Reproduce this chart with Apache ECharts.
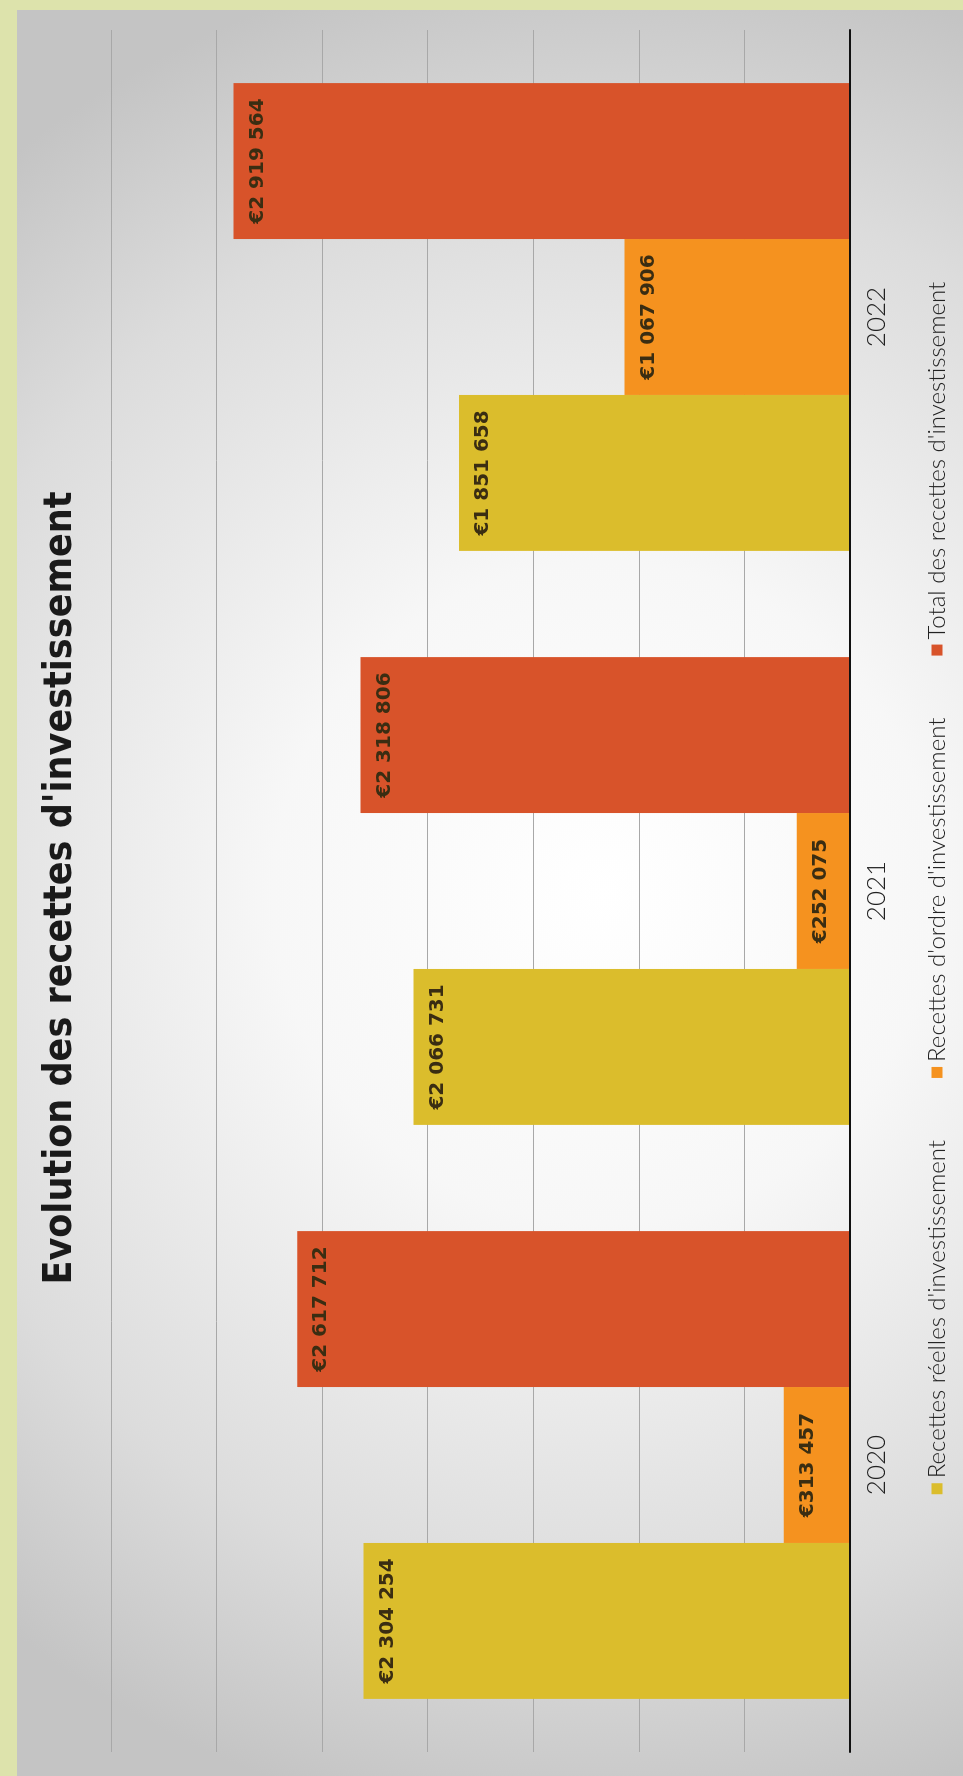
<!DOCTYPE html>
<html>
<head>
<meta charset="utf-8">
<script src="https://cdn.jsdelivr.net/npm/echarts@6/dist/echarts.min.js"></script>
<style>
  html, body { margin: 0; padding: 0; width: 963px; height: 1776px; overflow: hidden; background: #dde3ac; }
  /* The column chart is laid out landscape and turned a quarter turn counter-clockwise onto the portrait page. */
  #chart {
    position: absolute; left: 0; top: 0;
    width: 1776px; height: 963px;
    transform-origin: 0 0;
    transform: translateY(1776px) rotate(-90deg);
  }
</style>
</head>
<body>
<div id="chart"></div>
<script>
// Investment receipts, in euros, per year
const years = ['2020', '2021', '2022'];
const recettesReelles = [2304254, 2066731, 1851658];
const recettesOrdre = [313457, 252075, 1067906];
const totalRecettes = [2617712, 2318806, 2919564];
const seriesNames = [
  "Recettes réelles d'investissement",
  "Recettes d'ordre d'investissement",
  "Total des recettes d'investissement"
];
const valueMax = 3500000;
const valueStep = 500000;

const colors = ['#dbbd2c', '#f5921f', '#d8532a'];

function euro(v) {
  return '€' + String(v).replace(/\B(?=(\d{3})+(?!\d))/g, ' ');
}

const chart = echarts.init(document.getElementById('chart'), null, { width: 1776, height: 963, renderer: 'canvas' });

const labelStyle = {
  show: true,
  position: 'insideTop',
  distance: 14,
  formatter: p => euro(p.value),
  fontFamily: 'DejaVu Sans',
  fontWeight: 'bold',
  fontSize: 20,
  color: '#3a2d12'
};

function barSeries(name, data, color) {
  return {
    name: name,
    type: 'bar',
    data: data,
    barGap: '0%',
    barCategoryGap: '18.5%',
    itemStyle: { color: color },
    label: labelStyle
  };
}

chart.setOption({
  backgroundColor: '#dde3ac',
  color: colors,
  animation: false,
  graphic: [{
    type: 'rect',
    z: -10,
    silent: true,
    shape: { x: 0, y: 17, width: 1766, height: 946 },
    style: {
      fill: {
        type: 'radial', x: 0.5, y: 0.62, r: 1.0,
        colorStops: [
          { offset: 0, color: '#ffffff' },
          { offset: 0.35, color: '#f7f7f7' },
          { offset: 0.75, color: '#dcdcdc' },
          { offset: 1, color: '#c4c4c4' }
        ]
      }
    }
  }],
  title: {
    text: "Evolution des recettes d'investissement",
    left: 'center',
    top: 36,
    textStyle: {
      fontFamily: 'DejaVu Sans Condensed, DejaVu Sans',
      fontWeight: 'bold',
      fontSize: 39,
      color: '#1a1a1a'
    }
  },
  legend: {
    data: seriesNames,
    left: 'center',
    top: 920,
    icon: 'rect',
    itemWidth: 11,
    itemHeight: 11,
    itemGap: 62,
    textStyle: { fontFamily: 'Lato', fontWeight: 300, fontSize: 24, color: '#222222' }
  },
  grid: { left: 24, right: 30, top: 111, bottom: 113, containLabel: false },
  xAxis: {
    type: 'category',
    data: years,
    axisLine: { show: true, lineStyle: { color: '#111111', width: 2 } },
    axisTick: { show: false },
    axisLabel: { margin: 14, fontFamily: 'Lato', fontWeight: 300, fontSize: 26, color: '#222222' },
    z: 5
  },
  yAxis: {
    type: 'value',
    min: 0,
    max: valueMax,
    interval: valueStep,
    axisLine: { show: false },
    axisTick: { show: false },
    axisLabel: { show: false },
    splitLine: { show: true, lineStyle: { color: '#a8a8a8', width: 1 } }
  },
  series: [
    barSeries(seriesNames[0], recettesReelles, colors[0]),
    barSeries(seriesNames[1], recettesOrdre, colors[1]),
    barSeries(seriesNames[2], totalRecettes, colors[2])
  ]
});
</script>
</body>
</html>
